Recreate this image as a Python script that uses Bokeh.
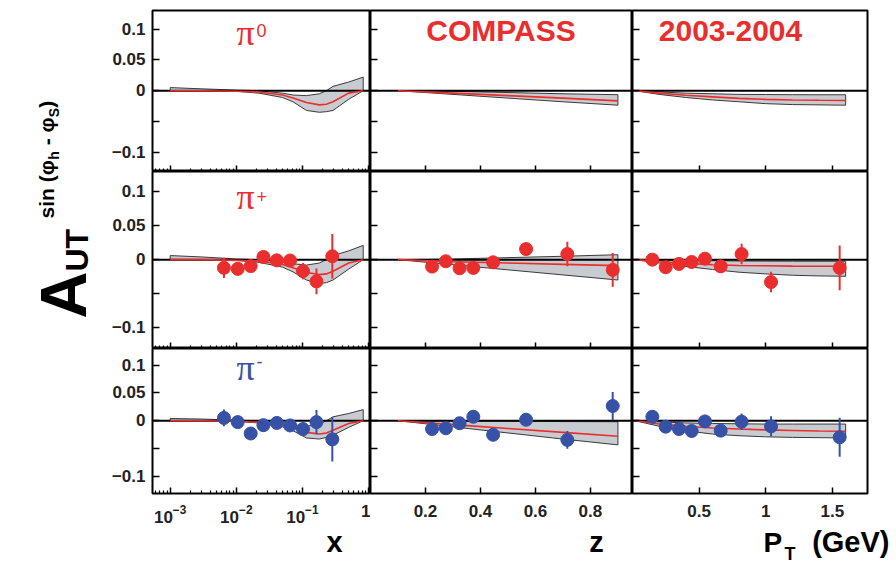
import math
from bokeh.plotting import figure
from bokeh.models import Range1d, FixedTicker, Label, Span
from bokeh.layouts import row, column
from bokeh.embed import file_html
from bokeh.resources import INLINE

RED = "#EA2E2E"
BLUE = "#3651A6"
BAND_FILL = "#C8CBCF"
BAND_LINE = "#3a3a3a"
FONT = "Liberation Sans"

# ---------------- data ----------------
# kinematic bins of the measured points
X_BINS = [0.0065, 0.0105, 0.0165, 0.0257, 0.041, 0.065, 0.102, 0.163, 0.283]
Z_BINS = [0.224, 0.274, 0.324, 0.374, 0.446, 0.566, 0.716, 0.881]
PT_BINS = [0.149, 0.249, 0.349, 0.444, 0.544, 0.662, 0.819, 1.04, 1.555]

# pi+ asymmetries and errors
PIP_X = [-0.012, -0.0135, -0.0095, 0.004, -0.001, -0.0012, -0.017, -0.032, 0.005]
PIP_X_ERR = [0.015, 0.01, 0.008, 0.007, 0.007, 0.008, 0.012, 0.019, 0.033]
PIP_Z = [-0.0102, -0.0024, -0.0127, -0.0122, -0.0039, 0.0156, 0.0083, -0.0151]
PIP_Z_ERR = [0.006, 0.006, 0.007, 0.009, 0.008, 0.008, 0.018, 0.025]
PIP_PT = [0.0, -0.0112, -0.0063, -0.0034, 0.0015, -0.0098, 0.0083, -0.033, -0.0122]
PIP_PT_ERR = [0.007, 0.006, 0.006, 0.006, 0.006, 0.009, 0.015, 0.015, 0.033]

# pi- asymmetries and errors
PIM_X = [0.005, -0.0025, -0.023, -0.008, -0.004, -0.0085, -0.015, -0.0025, -0.0335]
PIM_X_ERR = [0.015, 0.007, 0.007, 0.007, 0.008, 0.009, 0.012, 0.022, 0.04]
PIM_Z = [-0.0149, -0.0135, -0.0045, 0.0071, -0.0253, 0.0018, -0.0345, 0.0265]
PIM_Z_ERR = [0.006, 0.006, 0.007, 0.007, 0.008, 0.009, 0.016, 0.025]
PIM_PT = [0.0071, -0.0107, -0.0149, -0.0185, -0.0012, -0.0179, -0.0018, -0.0101, -0.0298]
PIM_PT_ERR = [0.006, 0.006, 0.006, 0.006, 0.007, 0.007, 0.015, 0.018, 0.035]

# model curves and uncertainty bands
CURVE_X = [0.001, 0.003, 0.01, 0.022, 0.05, 0.072, 0.115, 0.18, 0.23, 0.29, 0.5, 0.83]
CURVE_Z = [0.1, 0.3, 0.5, 0.7, 0.9]
CURVE_PT = [0.02, 0.2, 0.4, 0.6, 0.8, 1.0, 1.2, 1.4, 1.6]

PI0_X_UP = [0.005, 0.003, 0.001, 0.0, -0.004, -0.007, -0.008, -0.005, 0.0, 0.007, 0.014, 0.022]
PI0_X_LO = [0.0, 0.0, -0.001, -0.004, -0.011, -0.018, -0.032, -0.035, -0.034, -0.032, -0.014, 0.0]
PI0_X_C = [0.0, 0.0, -0.001, -0.002, -0.007, -0.012, -0.019, -0.023, -0.022, -0.018, -0.004, 0.0]
PIP_X_UP = [0.006, 0.004, 0.001, 0.0, -0.003, -0.006, -0.008, -0.005, 0.0, 0.006, 0.013, 0.021]
PIP_X_LO = [0.0, 0.0, -0.001, -0.004, -0.011, -0.018, -0.03, -0.035, -0.034, -0.03, -0.014, 0.0]
PIP_X_C = [0.0, 0.0, -0.001, -0.002, -0.007, -0.012, -0.019, -0.022, -0.021, -0.017, -0.005, 0.0]
PIM_X_UP = [0.004, 0.003, 0.001, 0.0, -0.004, -0.007, -0.01, -0.006, 0.0, 0.007, 0.013, 0.02]
PIM_X_LO = [0.0, 0.0, -0.001, -0.004, -0.011, -0.018, -0.031, -0.033, -0.03, -0.026, -0.012, 0.0]
PIM_X_C = [0.0, 0.0, -0.001, -0.003, -0.008, -0.012, -0.021, -0.024, -0.022, -0.017, -0.005, 0.0]

PI0_Z_UP = [0.0, -0.001, -0.003, -0.005, -0.0065]
PI0_Z_LO = [0.0, -0.006, -0.012, -0.018, -0.0235]
PI0_Z_C = [0.0, -0.004, -0.008, -0.012, -0.0165]
PIP_Z_UP = [0.0, 0.001, 0.003, 0.005, 0.0073]
PIP_Z_LO = [0.0, -0.0075, -0.015, -0.0225, -0.030]
PIP_Z_C = [0.0, -0.003, -0.005, -0.007, -0.0088]
PIM_Z_UP = [0.0, -0.0005, -0.001, -0.0015, -0.0018]
PIM_Z_LO = [0.0, -0.011, -0.022, -0.033, -0.0435]
PIM_Z_C = [0.0, -0.007, -0.014, -0.021, -0.028]

PI0_PT_UP = [0.0, -0.002, -0.004, -0.005, -0.006, -0.0062, -0.0065, -0.0066, -0.0066]
PI0_PT_LO = [0.0, -0.006, -0.011, -0.015, -0.018, -0.021, -0.0225, -0.023, -0.0235]
PI0_PT_C = [0.0, -0.004, -0.0075, -0.010, -0.0125, -0.014, -0.015, -0.0155, -0.0158]
PIP_PT_UP = [0.0, -0.0005, -0.001, -0.0015, -0.002, -0.0022, -0.0023, -0.0024, -0.0024]
PIP_PT_LO = [0.0, -0.005, -0.010, -0.0145, -0.0185, -0.021, -0.023, -0.024, -0.0245]
PIP_PT_C = [0.0, -0.003, -0.0055, -0.0075, -0.0085, -0.009, -0.0095, -0.0097, -0.0098]
PIM_PT_UP = [0.0, -0.002, -0.004, -0.005, -0.0055, -0.006, -0.006, -0.006, -0.006]
PIM_PT_LO = [0.0, -0.010, -0.018, -0.024, -0.027, -0.029, -0.030, -0.0305, -0.031]
PIM_PT_C = [0.0, -0.006, -0.010, -0.013, -0.015, -0.0165, -0.0175, -0.0185, -0.019]

Y_TICKS = [-0.1, -0.05, 0.0, 0.05, 0.1]
X_TICKS = [[0.001, 0.01, 0.1, 1.0], [0.2, 0.4, 0.6, 0.8], [0.5, 1.0, 1.5]]

# ---------------- layout constants ----------------
SIDE_W = 104
FRAME_W = [218, 262, 235]
FRAME_H = [161, 177, 145]
BORDER_L = [48, 0, 0]
BORDER_R = [0, 0, 28]
BORDER_T = [10, 0, 0]
BORDER_B = [0, 0, 31]
STRIP_H = 39
X_RANGES = [(5.4e-4, 1.07), (0.0, 0.953), (0.0, 1.764)]
BASE = 0.42  # label anchor sits this many ems above the glyph baseline

BINS = [X_BINS, Z_BINS, PT_BINS]
CURVES = [CURVE_X, CURVE_Z, CURVE_PT]
BANDS = {
    0: [(PI0_X_UP, PI0_X_LO, PI0_X_C), (PI0_Z_UP, PI0_Z_LO, PI0_Z_C), (PI0_PT_UP, PI0_PT_LO, PI0_PT_C)],
    1: [(PIP_X_UP, PIP_X_LO, PIP_X_C), (PIP_Z_UP, PIP_Z_LO, PIP_Z_C), (PIP_PT_UP, PIP_PT_LO, PIP_PT_C)],
    2: [(PIM_X_UP, PIM_X_LO, PIM_X_C), (PIM_Z_UP, PIM_Z_LO, PIM_Z_C), (PIM_PT_UP, PIM_PT_LO, PIM_PT_C)],
}
POINTS = {
    1: [(PIP_X, PIP_X_ERR), (PIP_Z, PIP_Z_ERR), (PIP_PT, PIP_PT_ERR)],
    2: [(PIM_X, PIM_X_ERR), (PIM_Z, PIM_Z_ERR), (PIM_PT, PIM_PT_ERR)],
}
POINT_COLOR = {1: RED, 2: BLUE}


def lab(p, x, y, text, size, color="black", bold=True, font=FONT, align="left",
        angle=0.0):
    p.add_layout(Label(x=x, y=y, x_units="screen", y_units="screen", text=text,
                       text_font=font, text_font_size=f"{size}px",
                       text_font_style="bold" if bold else "normal",
                       text_color=color, text_align=align, text_baseline="alphabetic",
                       angle=angle))


def lab_h(p, frame_bottom, frame_left, px, baseline, text, size, **kw):
    """place a horizontal label by page position of its baseline"""
    lab(p, px - frame_left, frame_bottom - baseline + BASE * size, text, size, **kw)


def blank(w, h):
    f = figure(frame_width=w, frame_height=h, min_border_left=0, min_border_right=0,
               min_border_top=0, min_border_bottom=0, x_axis_location=None,
               y_axis_location=None, toolbar_location=None, output_backend="svg",
               x_range=Range1d(0, 1), y_range=Range1d(0, 1))
    f.outline_line_color = None
    f.grid.visible = False
    f.background_fill_color = "white"
    f.border_fill_color = "white"
    return f


def panel(r, c):
    kw = dict(frame_width=FRAME_W[c], frame_height=FRAME_H[r],
              min_border_left=BORDER_L[c], min_border_right=BORDER_R[c],
              min_border_top=BORDER_T[r], min_border_bottom=BORDER_B[r],
              toolbar_location=None, output_backend="svg",
              x_range=Range1d(*X_RANGES[c]), y_range=Range1d(-0.131, 0.13))
    if c == 0:
        kw["x_axis_type"] = "log"
    p = figure(**kw)
    p.outline_line_color = "black"
    p.outline_line_width = 2
    p.outline_line_alpha = 1.0
    p.grid.visible = False
    p.background_fill_color = "white"
    p.border_fill_color = "white"

    xa = p.xaxis[0]
    ya = p.yaxis[0]
    if c == 0:
        lo, hi = X_RANGES[0]
        minors = [m * 10.0 ** e for e in range(-4, 1) for m in range(2, 10)
                  if lo < m * 10.0 ** e < hi]
        xa.ticker = FixedTicker(ticks=X_TICKS[0], minor_ticks=minors)
        xa.major_label_overrides = {1.0: "1"}
    else:
        xa.ticker = FixedTicker(ticks=X_TICKS[c])
    ya.ticker = FixedTicker(ticks=Y_TICKS)
    for a, tin in ((xa, 6), (ya, 7)):
        a.axis_line_color = None
        a.major_tick_in = tin
        a.major_tick_out = 0
        a.minor_tick_in = 3
        a.minor_tick_out = 0
        a.major_tick_line_width = 1.5
        a.major_tick_line_color = "black"
        a.minor_tick_line_color = "black"
        a.minor_tick_line_width = 1.2
        a.major_label_text_font = FONT
        a.major_label_text_font_style = "bold"
        a.major_label_text_color = "#222222"
        a.major_label_text_font_size = "17px"
    if r == 2:
        xa.major_label_standoff = 11
    else:
        xa.major_label_text_color = None
        xa.major_label_standoff = 0
    if c == 0:
        ya.major_label_standoff = 7
        ya.major_label_overrides = {-0.05: " "}
    else:
        ya.major_label_text_color = None
        ya.major_label_standoff = 0

    up, lo_, cen = BANDS[r][c]
    cx = CURVES[c]
    p.patch(cx + cx[::-1], up + lo_[::-1], fill_color=BAND_FILL, line_color=BAND_LINE,
            line_width=1)
    zero = Span(location=0, dimension="width", line_color="black", line_width=2,
                level="glyph")
    p.renderers.append(zero)
    p.line(cx, cen, line_color=RED, line_width=1.6)

    if r in POINTS:
        ys, es = POINTS[r][c]
        xs = BINS[c]
        col = POINT_COLOR[r]
        p.segment(x0=xs, y0=[y - e for y, e in zip(ys, es)], x1=xs,
                  y1=[y + e for y, e in zip(ys, es)], line_color=col, line_width=2)
        p.scatter(xs, ys, marker="circle", size=13, fill_color=col, line_color=col)
    return p


panels = [[panel(r, c) for c in range(3)] for r in range(3)]

# page positions of frame edges
FRAME_LEFT = [152, 370, 632]
FRAME_BOTTOM = [171, 348, 493]

# particle labels
pi_sup = ["0", "+", "-"]
pi_col = [RED, RED, BLUE]
pi_baseline = [48, 212, 383]
sup_baseline = [38, 204, 369]
for r in range(3):
    p = panels[r][0]
    lab_h(p, FRAME_BOTTOM[r], FRAME_LEFT[0], 236, pi_baseline[r], "\u03c0", 36,
          color=pi_col[r], bold=False, font="Liberation Serif")
    lab_h(p, FRAME_BOTTOM[r], FRAME_LEFT[0], 256, sup_baseline[r], pi_sup[r], 18,
          color=pi_col[r], bold=False)

lab_h(panels[0][1], FRAME_BOTTOM[0], FRAME_LEFT[1], 500.5, 43, "COMPASS", 30,
      color=RED, align="center")
lab_h(panels[0][2], FRAME_BOTTOM[0], FRAME_LEFT[2], 730, 43, "2003-2004", 30,
      color=RED, align="center")

# axis titles in a bottom strip
TOTAL_W = SIDE_W + sum(BORDER_L) + sum(FRAME_W) + sum(BORDER_R)
TOP_H = BORDER_T[0] + sum(FRAME_H) + BORDER_B[2]
strip = blank(TOTAL_W, STRIP_H)
SB = TOP_H + STRIP_H  # page y of strip bottom
lab_h(strip, SB, 0, 334, 553, "x", 29, align="center")
lab_h(strip, SB, 0, 596, 553, "z", 29, align="center")
lab_h(strip, SB, 0, 763, 553, "P", 28)
lab_h(strip, SB, 0, 784, 560, "T", 18)
lab_h(strip, SB, 0, 889, 553, "(GeV)", 29, align="right")

# y-axis title in a side strip (rotated, reading upwards)
side = blank(SIDE_W, TOP_H)
R = math.pi / 2


def lab_v(px_base, py_start, text, size):
    lab(side, px_base - BASE * size, TOP_H - py_start, text, size, angle=R)


lab_v(90, 318, "A", 65)
lab_v(90, 271, "UT", 32)
y = 218.0
lab_v(55, y, "sin (\u03c6", 21)
y -= 2.8 * 21
lab_v(59, y, "h", 14)
y -= 0.611 * 14
lab_v(55, y, "\u00a0-\u00a0\u03c6", 21)
y -= 1.62 * 21
lab_v(59, y, "S", 14)
y -= 0.667 * 14
lab_v(55, y, ")", 21)

grid = column(*[row(*panels[r], spacing=0) for r in range(3)], spacing=0)
page = column(row(side, grid, spacing=0), strip, spacing=0)

open("out.html", "w").write(file_html(page, INLINE))
